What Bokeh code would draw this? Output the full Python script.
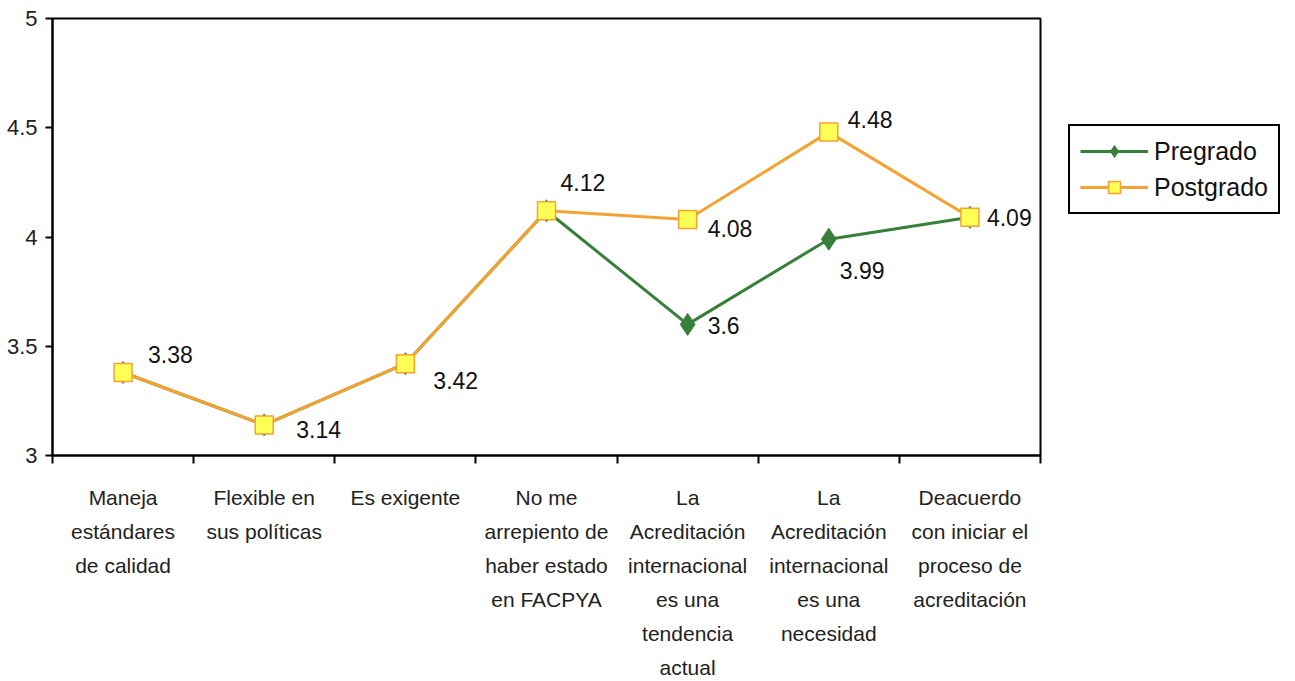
from bokeh.plotting import figure
from bokeh.models import FixedTicker, Legend, LegendItem, ColumnDataSource
from bokeh.embed import file_html
from bokeh.resources import INLINE
from bokeh.core.properties import value

# ---- data ----
categories = [
    "Maneja\nestándares\nde calidad",
    "Flexible en\nsus políticas",
    "Es exigente",
    "No me\narrepiento de\nhaber estado\nen FACPYA",
    "La\nAcreditación\ninternacional\nes una\ntendencia\nactual",
    "La\nAcreditación\ninternacional\nes una\nnecesidad",
    "Deacuerdo\ncon iniciar el\nproceso de\nacreditación",
]
pregrado = [3.38, 3.14, 3.42, 4.12, 3.6, 3.99, 4.09]
postgrado = [3.38, 3.14, 3.42, 4.12, 4.08, 4.48, 4.09]
y_ticks = [3, 3.5, 4, 4.5, 5]
y_tick_labels = ["3", "3.5", "4", "4.5", "5"]

# label offsets (screen px) - styling only
post_label_dx = [25, 32, 28, 14, 20, 19, 17]
post_label_dy = [-18, 5, 17, -28, 9, -13, 0]
pre_label_dx = [0, 0, 0, 0, 20, 11, 0]
pre_label_dy = [0, 0, 0, 0, 1, 31, 0]

FONT = "Liberation Sans"
GREEN = "#37803a"
ORANGE = "#f5a232"
YELLOW = "#ffff55"

xs = list(range(1, len(categories) + 1))

p = figure(frame_width=988, frame_height=437, output_backend="svg", toolbar_location=None,
           x_range=(0.5, len(categories) + 0.5), y_range=(3, 5),
           min_border_left=52, min_border_right=10, min_border_top=18, min_border_bottom=2)
p.grid.visible = False
p.outline_line_color = "black"
p.outline_line_width = 2
p.background_fill_color = "white"
p.border_fill_color = "white"

# y axis
p.yaxis.ticker = FixedTicker(ticks=y_ticks)
p.yaxis.major_label_overrides = {t: l for t, l in zip(y_ticks, y_tick_labels)}
p.yaxis.axis_line_color = "black"
p.yaxis.axis_line_width = 2
p.yaxis.major_tick_line_width = 2
p.yaxis.major_tick_out = 7
p.yaxis.major_tick_in = 0
p.yaxis.minor_tick_line_color = None
p.yaxis.major_label_text_font = FONT
p.yaxis.major_label_text_font_size = "22px"
p.yaxis.major_label_text_color = "#222222"
p.yaxis.major_label_standoff = 8

# x axis: labels at centers, ticks at boundaries
p.xaxis.ticker = FixedTicker(ticks=xs, minor_ticks=[x - 0.5 for x in xs] + [xs[-1] + 0.5])
p.xaxis.major_label_overrides = {x: c for x, c in zip(xs, categories)}
p.xaxis.axis_line_color = "black"
p.xaxis.axis_line_width = 2
p.xaxis.major_tick_out = 0
p.xaxis.major_tick_in = 0
p.xaxis.minor_tick_out = 8
p.xaxis.minor_tick_in = 0
p.xaxis.minor_tick_line_color = "black"
p.xaxis.minor_tick_line_width = 2
p.xaxis.major_label_text_font = FONT
p.xaxis.major_label_text_font_size = "21px"
p.xaxis.major_label_text_color = "#222222"
p.xaxis.major_label_text_line_height = 1.48
p.xaxis.major_label_standoff = 22

# series
pre_line = p.line(xs, pregrado, line_color=GREEN, line_width=3)
pre_mark = p.scatter(xs, pregrado, marker="diamond", size=22, fill_color=GREEN, line_color=GREEN)
post_line = p.line(xs, postgrado, line_color=ORANGE, line_width=3)
post_mark = p.scatter(xs, postgrado, marker="square", size=18, fill_color=YELLOW,
                      line_color=ORANGE, line_width=1.5)

# value labels
post_src = ColumnDataSource(dict(x=xs, y=postgrado, t=[f"{v:g}" for v in postgrado],
                                 dx=post_label_dx, dy=post_label_dy))
p.text(x="x", y="y", text="t", x_offset="dx", y_offset="dy", source=post_src,
       text_font=value(FONT), text_font_size="23px", text_color="#111111",
       text_align="left", text_baseline="middle")

idx = [i for i in range(len(xs)) if pregrado[i] != postgrado[i]]
pre_src = ColumnDataSource(dict(x=[xs[i] for i in idx], y=[pregrado[i] for i in idx],
                                t=[f"{pregrado[i]:g}" for i in idx],
                                dx=[pre_label_dx[i] for i in idx], dy=[pre_label_dy[i] for i in idx]))
p.text(x="x", y="y", text="t", x_offset="dx", y_offset="dy", source=pre_src,
       text_font=value(FONT), text_font_size="23px", text_color="#111111",
       text_align="left", text_baseline="middle")

legend = Legend(items=[LegendItem(label="Pregrado", renderers=[pre_line, pre_mark]),
                       LegendItem(label="Postgrado", renderers=[post_line, post_mark])],
                location=(28, 241))
legend.label_text_font = FONT
legend.label_text_font_size = "25px"
legend.label_text_color = "#111111"
legend.border_line_color = "black"
legend.border_line_alpha = 1.0
legend.border_line_width = 2
legend.glyph_width = 68
legend.glyph_height = 30
legend.label_standoff = 6
legend.padding = 10
legend.spacing = 6
legend.margin = 0
p.add_layout(legend, "right")

open("out.html", "w").write(file_html(p, INLINE))
